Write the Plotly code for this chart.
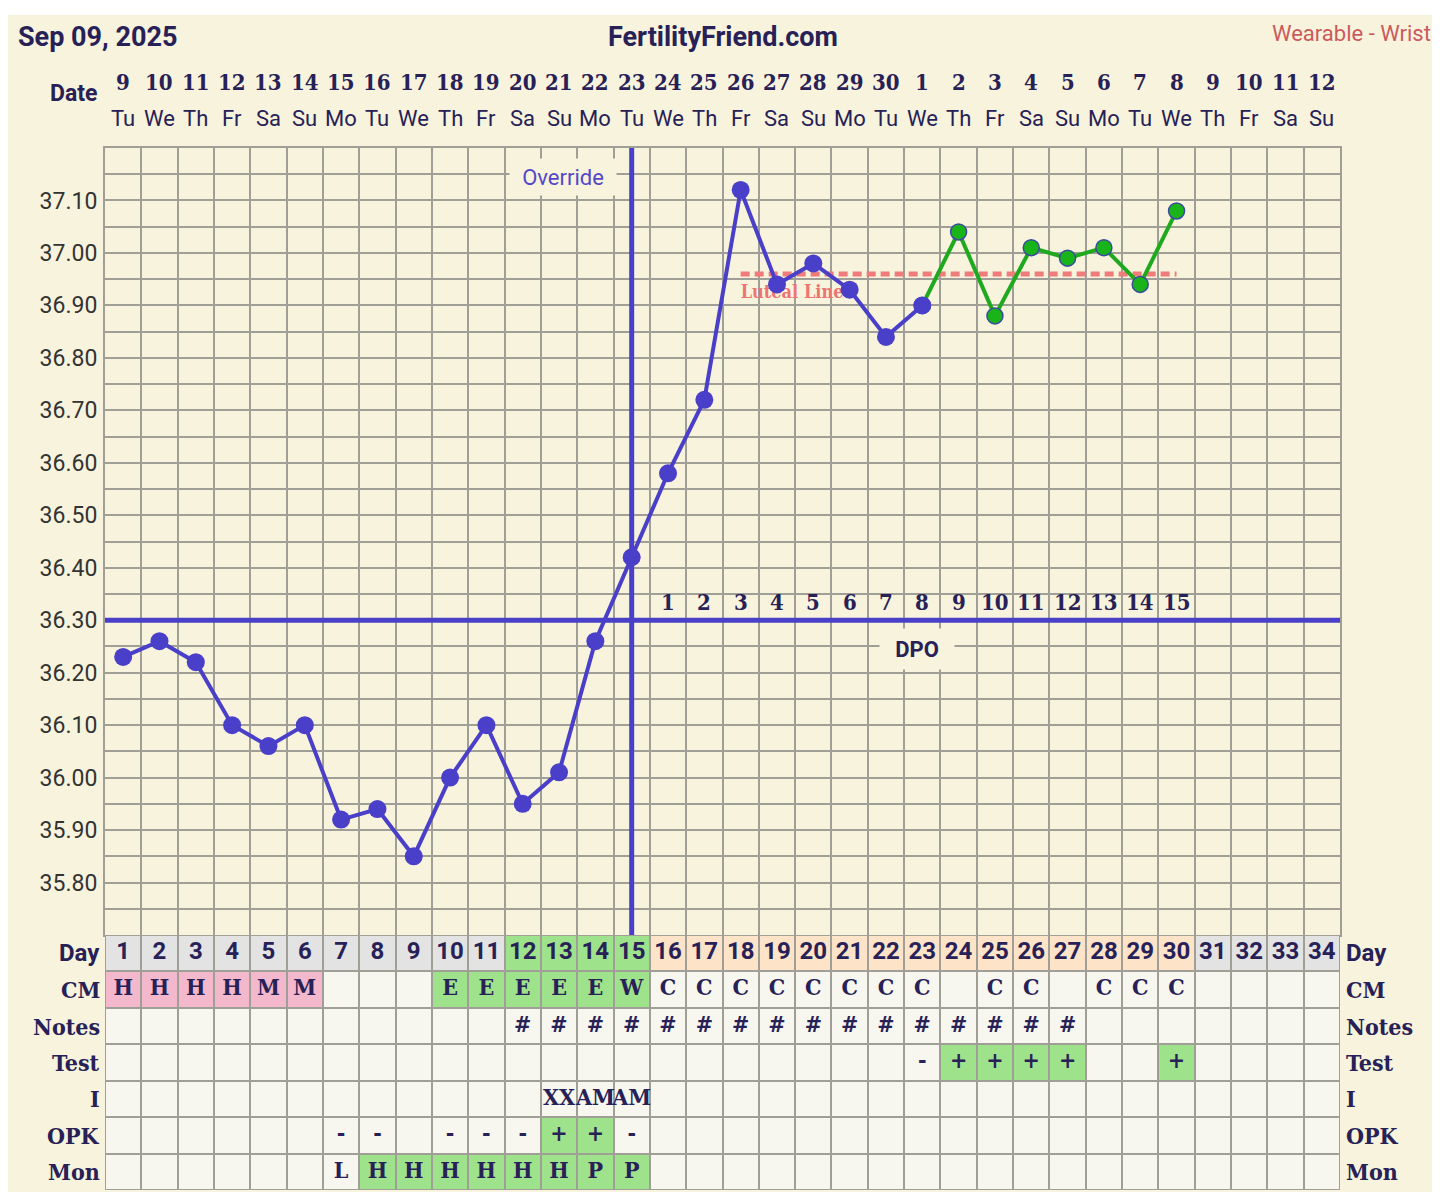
import plotly.graph_objects as go

# cycle days and the calendar row above the chart
days = list(range(1, 35))
dates = [9, 10, 11, 12, 13, 14, 15, 16, 17, 18, 19, 20, 21, 22, 23, 24, 25, 26, 27, 28, 29, 30,
         1, 2, 3, 4, 5, 6, 7, 8, 9, 10, 11, 12]
weekdays = ["Tu", "We", "Th", "Fr", "Sa", "Su", "Mo"] * 4 + ["Tu", "We", "Th", "Fr", "Sa", "Su"]

# temperatures (cycle days 1..30)
temps = [36.23, 36.26, 36.22, 36.10, 36.06, 36.10, 35.92, 35.94, 35.85, 36.00,
         36.10, 35.95, 36.01, 36.26, 36.42, 36.58, 36.72, 37.12, 36.94, 36.98,
         36.93, 36.84, 36.90, 37.04, 36.88, 37.01, 36.99, 37.01, 36.94, 37.08]
temp_ticks = [35.80, 35.90, 36.00, 36.10, 36.20, 36.30, 36.40, 36.50, 36.60,
              36.70, 36.80, 36.90, 37.00, 37.10]

coverline = 36.30
ovulation_day = 15
luteal_level = 36.96
luteal_start = 18
green_from = 23
fertile_days = [12, 13, 14, 15]

# table rows under the chart
row_names = ["Day", "CM", "Notes", "Test", "I", "OPK", "Mon"]
cm = ["H", "H", "H", "H", "M", "M", "", "", "", "E", "E", "E", "E", "E", "W",
      "C", "C", "C", "C", "C", "C", "C", "C", "", "C", "C", "", "C", "C", "C", "", "", "", ""]
notes = [""] * 11 + ["#"] * 16 + [""] * 7
test = [""] * 22 + ["-", "+", "+", "+", "+", "", "", "+"] + [""] * 4
intercourse = [""] * 12 + ["XX", "AM", "AM"] + [""] * 19
opk = [""] * 6 + ["-", "-", "", "-", "-", "-", "+", "+", "-"] + [""] * 19
mon = [""] * 6 + ["L", "H", "H", "H", "H", "H", "H", "P", "P"] + [""] * 19

CREAM = "#f8f3dc"
GRID = "#a09f97"
PURPLE = "#4a3fc8"
NAVY = "#272157"
SLAB = "DejaVu Serif Condensed, DejaVu Serif, serif"
SANS = "Roboto, sans-serif"
cell_colors = ["#f7f7f0", "#e3e3e3", "#9fe28c", "#fde3c7", "#f3b8cc"]


def cell_code(row, day, val):
    if row == "Day":
        if day in fertile_days:
            return 2
        if ovulation_day < day <= len(temps):
            return 3
        return 1
    if row == "CM":
        if val in ("H", "M"):
            return 4
        if val in ("E", "W"):
            return 2
    if row in ("Test", "OPK") and val == "+":
        return 2
    if row == "Mon" and val in ("H", "P"):
        return 2
    return 0


table = [[str(d) for d in days], cm, notes, test, intercourse, opk, mon]
codes = [[cell_code(row_names[r], days[c], table[r][c]) for c in range(len(days))]
         for r in range(len(row_names))]
n = len(cell_colors)
scale = []
for i, col in enumerate(cell_colors):
    scale += [[i / n, col], [(i + 1) / n, col]]

table_frac = 255 / 1042

fig = go.Figure()

# luteal line
fig.add_trace(go.Scatter(x=[luteal_start, len(temps)], y=[luteal_level, luteal_level],
                         mode="lines", line=dict(color="#ef7b7b", width=5, dash="9px,5px"),
                         hoverinfo="skip"))
fig.add_trace(go.Scatter(x=[luteal_start], y=[luteal_level - 0.038], mode="text", text=["Luteal Line"],
                         textposition="middle right",
                         textfont=dict(family=SLAB, size=18, color="#ee7474", weight=700),
                         hoverinfo="skip"))

# temperature line, green part first, purple on top
gx = [d for d in days[:len(temps)] if d >= green_from]
fig.add_trace(go.Scatter(x=gx, y=temps[green_from - 1:], mode="lines+markers",
                         line=dict(color="#1fa91f", width=4),
                         marker=dict(size=16, color="#19b419", line=dict(color="#3b4c9e", width=1.5))))
px_ = [d for d in days[:len(temps)] if d <= green_from]
fig.add_trace(go.Scatter(x=px_, y=temps[:green_from], mode="lines+markers",
                         line=dict(color=PURPLE, width=4),
                         marker=dict(size=18, color=PURPLE)))

# table
fig.add_trace(go.Heatmap(z=codes, x=days, y=list(range(len(row_names))), xaxis="x", yaxis="y2",
                         colorscale=scale, zmin=-0.5, zmax=n - 0.5, showscale=False,
                         xgap=2, ygap=2, hoverinfo="skip"))
for r, row in enumerate(table):
    fnt = dict(family=SANS, size=24, color=NAVY, weight=700) if r == 0 else \
        dict(family=SLAB, size=23, color=NAVY, weight=700)
    fig.add_trace(go.Scatter(x=days, y=[r] * len(days), text=row, mode="text",
                             textfont=fnt, xaxis="x", yaxis="y2", hoverinfo="skip"))

annotations = []
for d, dt, wd in zip(days, dates, weekdays):
    annotations.append(dict(x=d, y=1, xref="x", yref="paper", yanchor="middle", yshift=66, text=str(dt),
                            showarrow=False, font=dict(family=SLAB, size=22, color=NAVY, weight=700)))
    annotations.append(dict(x=d, y=1, xref="x", yref="paper", yanchor="middle", yshift=30, text=wd,
                            showarrow=False, font=dict(family=SANS, size=22, color=NAVY)))
annotations.append(dict(x=0, y=1, xref="paper", yref="paper", xanchor="right", yanchor="middle",
                        xshift=-6, yshift=55, text="Date", showarrow=False,
                        font=dict(family=SANS, size=23, color=NAVY, weight=700)))
annotations.append(dict(x=0, y=1, xref="paper", yref="paper", xanchor="left", yanchor="middle",
                        xshift=-89, yshift=111, text="Sep 09, 2025", showarrow=False,
                        font=dict(family=SANS, size=27, color=NAVY, weight=700)))
annotations.append(dict(x=0.5, y=1, xref="paper", yref="paper", yanchor="middle", yshift=111,
                        text="FertilityFriend.com", showarrow=False,
                        font=dict(family=SANS, size=27, color=NAVY, weight=700)))
annotations.append(dict(x=1, y=1, xref="paper", yref="paper", xanchor="right", yanchor="middle",
                        xshift=93, yshift=115, text="Wearable - Wrist", showarrow=False,
                        font=dict(family=SANS, size=22, color="#cb5a5c")))

# override label and DPO counts
annotations.append(dict(x=ovulation_day - 1.9, y=37.145, xref="x", yref="y", text="Override",
                        showarrow=False, bgcolor=CREAM, width=104, height=34,
                        font=dict(family=SANS, size=22, color="#5548c8")))
for d in days:
    if ovulation_day < d <= len(temps):
        annotations.append(dict(x=d, y=coverline, xref="x", yref="y", yshift=18,
                                text=str(d - ovulation_day), showarrow=False,
                                font=dict(family=SLAB, size=22, color=NAVY, weight=700)))
annotations.append(dict(x=(ovulation_day + 1 + len(temps)) / 2 - 0.15, y=coverline, xref="x", yref="y",
                        yshift=-29, text="DPO", showarrow=False, bgcolor=CREAM, width=72, height=38,
                        font=dict(family=SANS, size=22, color=NAVY, weight=700)))

# row labels on both sides
for r, name in enumerate(row_names):
    fnt = dict(family=SANS, size=24, color=NAVY, weight=700) if r == 0 else \
        dict(family=SLAB, size=23, color=NAVY, weight=700)
    annotations.append(dict(x=0, y=r, xref="paper", yref="y2", xanchor="right", xshift=-3,
                            text=name, showarrow=False, font=fnt))
    annotations.append(dict(x=1, y=r, xref="paper", yref="y2", xanchor="left", xshift=4,
                            text=name, showarrow=False, font=fnt))

shapes = [
    dict(type="rect", xref="x domain", yref="y2 domain", x0=0, x1=1, y0=0, y1=1,
         fillcolor=GRID, line=dict(width=0), layer="below"),
    dict(type="line", xref="x domain", yref="y", x0=0, x1=1, y0=coverline, y1=coverline,
         line=dict(color=PURPLE, width=5)),
    dict(type="line", xref="x", yref="y domain", x0=ovulation_day, x1=ovulation_day, y0=0, y1=1,
         line=dict(color=PURPLE, width=5)),
    dict(type="rect", xref="paper", yref="paper", x0=-0.2, x1=1.2, y0=1 + 133 / 1042, y1=1.3,
         fillcolor="white", line=dict(width=0), layer="below"),
]

tick_text = ["%.2f" % t for t in temp_ticks]
fig.update_layout(
    width=1440, height=1192,
    margin=dict(l=97, r=108, t=140, b=10),
    paper_bgcolor=CREAM, plot_bgcolor=CREAM,
    showlegend=False,
    annotations=annotations,
    shapes=shapes,
    xaxis=dict(range=[0.5, len(days) + 0.5], tickvals=[d + 0.5 for d in [0] + days],
               showticklabels=False, ticks="", showgrid=True, gridcolor=GRID, gridwidth=2,
               zeroline=False, anchor="y", showline=True, mirror=True, linecolor=GRID, linewidth=2),
    yaxis=dict(domain=[table_frac, 1], range=[35.70, 37.20], tickvals=temp_ticks, ticktext=tick_text,
               showgrid=True, gridcolor=GRID, gridwidth=2, zeroline=False, ticks="",
               minor=dict(tick0=35.70, dtick=0.05, showgrid=True, gridcolor=GRID, gridwidth=2),
               tickfont=dict(family=SANS, size=23, color="#333333"), ticklabelstandoff=1,
               showline=True, mirror=True, linecolor=GRID, linewidth=2),
    yaxis3=dict(overlaying="y", side="right", anchor="x", range=[35.70, 37.20], tickvals=temp_ticks,
                ticktext=tick_text, showgrid=False, zeroline=False, ticks="",
                tickfont=dict(family=SANS, size=23, color="#333333"), ticklabelstandoff=17),
    yaxis2=dict(domain=[0, table_frac], range=[len(row_names) - 0.5, -0.5], showticklabels=False,
                showgrid=False, zeroline=False, ticks="", anchor="x"),
)

fig.write_html("out.html")
